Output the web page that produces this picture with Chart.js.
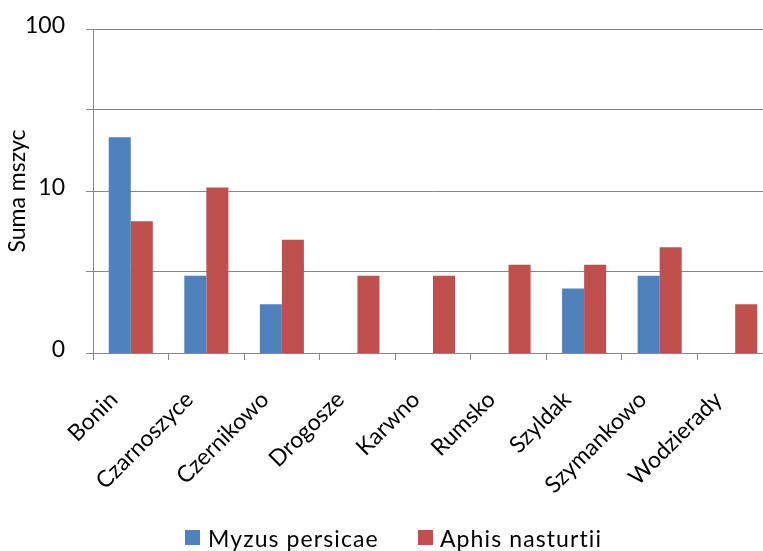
<!DOCTYPE html>
<html>
<head>
<meta charset="utf-8">
<script src="https://cdn.jsdelivr.net/npm/chart.js@4"></script>
<style>
  html, body { margin: 0; padding: 0; background: #fff; overflow: hidden; width: 763px; height: 551px; }
  #wrap { position: relative; width: 763px; height: 551px; overflow: hidden; }
  canvas { position: absolute; left: 0; top: 0; }
  .lg { position: absolute; font-family: Lato, sans-serif; font-size: 23px; color: #000; line-height: 24px; white-space: nowrap; letter-spacing: 1.1px; }
  .sw { position: absolute; width: 15px; height: 15px; }
</style>
</head>
<body>
<div id="wrap">
  <canvas id="c" width="790" height="551"></canvas>
  <div class="sw" style="left:185px;top:530px;background:#4F81BD"></div>
  <div class="lg" style="left:208px;top:526px">Myzus persicae</div>
  <div class="sw" style="left:418px;top:530px;background:#C0504D"></div>
  <div class="lg" style="left:440px;top:526px">Aphis nasturtii</div>
</div>
<script>
const categories = ["Bonin", "Czarnoszyce", "Czernikowo", "Drogosze", "Karwno", "Rumsko", "Szyldak", "Szymankowo", "Wodzierady"];
const myzusPersicae = [21.5, 3, 2, null, null, null, 2.5, 3, null];
const aphisNasturtii = [6.5, 10.5, 5, 3, 3, 3.5, 3.5, 4.5, 2];
const yTickValues = [1, 3.1623, 10, 31.623, 100];
const yTickLabels = ["0", "", "10", "", "100"];
const yTitle = "Suma mszyc";

const gridColor = "#878787";

new Chart(document.getElementById("c"), {
  type: "bar",
  data: {
    labels: categories,
    datasets: [
      { label: "Myzus persicae", data: myzusPersicae, backgroundColor: "#4F81BD", borderWidth: 0 },
      { label: "Aphis nasturtii", data: aphisNasturtii, backgroundColor: "#C0504D", borderWidth: 0 }
    ]
  },
  options: {
    responsive: false,
    animation: false,
    devicePixelRatio: 1,
    layout: { padding: { top: 29, right: 17, bottom: 0, left: 0 } },
    datasets: { bar: { categoryPercentage: 0.583, barPercentage: 1 } },
    plugins: { legend: { display: false }, tooltip: { enabled: false } },
    scales: {
      x: {
        grid: { display: true, drawOnChartArea: false, drawTicks: true, tickLength: 7, color: gridColor, offset: true },
        border: { display: true, color: gridColor, width: 1 },
        ticks: {
          autoSkip: false, maxRotation: 45, minRotation: 45,
          font: { family: "Lato", size: 23 }, color: "#000",
          padding: 26, labelOffset: -17
        },
        afterFit: (s) => { s.height = 198; s.paddingLeft = 0; s.paddingRight = 0; }
      },
      y: {
        type: "logarithmic",
        min: 1, max: 100,
        afterBuildTicks: (s) => { s.ticks = yTickValues.map(v => ({ value: v })); },
        grid: { display: true, color: gridColor, lineWidth: 1, drawTicks: true, tickLength: 7 },
        border: { display: true, color: gridColor, width: 1 },
        ticks: {
          font: { family: "Lato", size: 23 }, color: "#000", padding: 21, labelOffset: -3,
          callback: function (v, i) { return yTickLabels[i]; }
        },
        title: { display: true, text: yTitle, font: { family: "Lato", size: 23 }, color: "#000", padding: { top: 4, bottom: 0 } },
        afterFit: (s) => { s.width = 93; s.paddingTop = 0; s.paddingBottom = 0; }
      }
    }
  }
});
</script>
</body>
</html>
